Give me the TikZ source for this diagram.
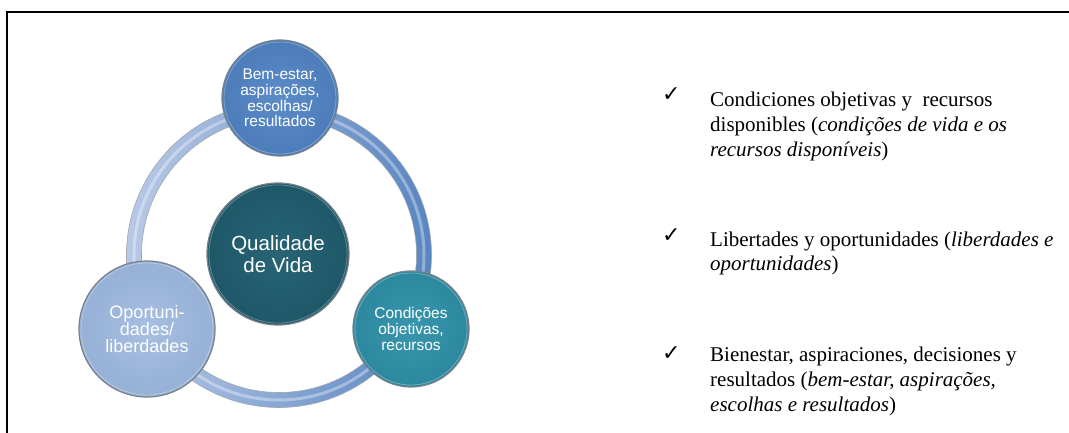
\documentclass[tikz,border=0pt]{standalone}
\usepackage{fontspec}
\setmainfont{Liberation Serif}
\setsansfont{Liberation Sans}
\newfontfamily\symfont{DejaVu Sans}
\usetikzlibrary{shapes.geometric}
\definecolor{topblue}{RGB}{76,124,185}
\definecolor{topblueL}{RGB}{92,140,200}
\definecolor{centerteal}{RGB}{30,88,104}
\definecolor{centertealL}{RGB}{40,100,116}
\definecolor{rightteal}{RGB}{44,136,158}
\definecolor{righttealL}{RGB}{56,150,172}
\definecolor{leftblue}{RGB}{150,176,214}
\definecolor{leftblueL}{RGB}{166,190,225}
\definecolor{ringlight}{RGB}{184,201,230}
\definecolor{ringdark}{RGB}{88,133,193}
\definecolor{rimgray}{RGB}{120,130,140}
\tikzset{
  bubble/.style={circle, draw=rimgray, line width=1.2pt, inner sep=0pt, align=center,
    text=white, font=\sffamily},
  listtext/.style={anchor=base west, inner sep=0pt, font=\fontsize{21}{24.8}\selectfont},
  tick/.style={anchor=base west, inner sep=0pt, font=\symfont\fontsize{22}{22}\selectfont},
}
\begin{document}
\begin{tikzpicture}[x=1pt,y=-1pt]
\useasboundingbox (0,0) rectangle (1069,433);
% frame
\draw[line width=2pt] (7,433) -- (7,12) -- (1069,12);
% ring
\coordinate (rc) at (279,255);
\shade[even odd rule, shading angle=135, left color=ringlight, right color=ringdark]
  (rc) circle (152.5) (rc) circle (137.5);
\draw[white, opacity=0.35, line width=3pt] (rc) circle (145);
\draw[rimgray!70, line width=0.6pt] (rc) circle (152.5);
\draw[rimgray!70, line width=0.6pt] (rc) circle (137.5);
% circles
\node[bubble, minimum size=116, inner color=topblueL, outer color=topblue,
  font=\sffamily\fontsize{15.5}{15.7}\selectfont] (top) at (280,98)
  {Bem-estar,\\aspirações,\\escolhas/\\resultados};
\node[bubble, minimum size=116, inner color=righttealL, outer color=rightteal,
  font=\sffamily\fontsize{15.5}{16}\selectfont] (right) at (411,329)
  {Condições\\objetivas,\\recursos};
\node[bubble, minimum size=136, inner color=leftblueL, outer color=leftblue,
  font=\sffamily\fontsize{18}{16.8}\selectfont] (left) at (147,329)
  {Oportuni-\\dades/\\liberdades};
\node[bubble, minimum size=142, inner color=centertealL, outer color=centerteal,
  font=\sffamily\fontsize{20.5}{21.5}\selectfont] (qv) at (278,254)
  {Qualidade\\de Vida};
\foreach \n/\r in {top/56,right/56,left/66,qv/69}
  \draw[white, opacity=0.3, line width=0.8pt] (\n.center) circle (\r);
% list
\node[tick] (c1) at (662,102) {✓};
\node[tick] (c2) at (662,242) {✓};
\node[tick] (c3) at (662,360) {✓};
\node[listtext] (t1) at (710,106.5) {\begin{tabular}[t]{@{}l@{}}Condiciones objetivas y \ recursos\\disponibles (\textit{condições de vida e os}\\\textit{recursos disponíveis})\end{tabular}};
\node[listtext] (t2) at (710,246) {\begin{tabular}[t]{@{}l@{}}Libertades y oportunidades (\textit{liberdades e}\\\textit{oportunidades})\end{tabular}};
\node[listtext] (t3) at (710,361.5) {\begin{tabular}[t]{@{}l@{}}Bienestar, aspiraciones, decisiones y\\resultados (\textit{bem-estar, aspirações,}\\\textit{escolhas e resultados})\end{tabular}};
\end{tikzpicture}
\end{document}
